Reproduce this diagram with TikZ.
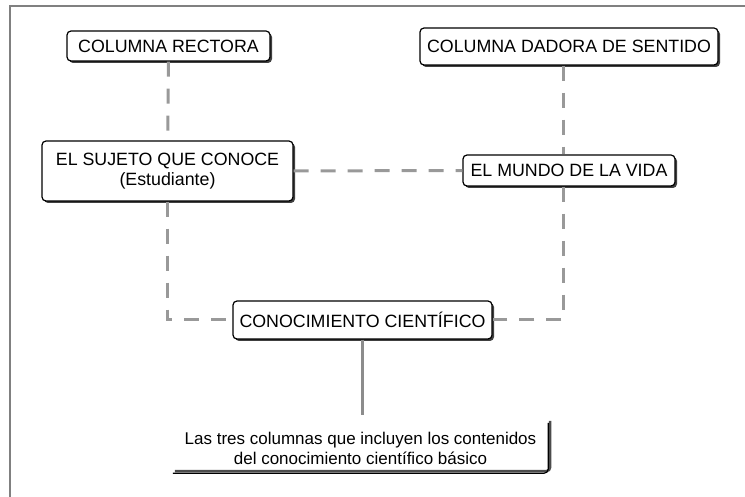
\documentclass[tikz,border=0pt]{standalone}
\usepackage{fontspec}
\setmainfont{Liberation Sans}
\usetikzlibrary{shadows}

\tikzset{
  caja/.style={draw=black, line width=1.2pt, fill=white, rounded corners=4pt,
    drop shadow={shadow xshift=2pt, shadow yshift=-2pt, fill=black!75, opacity=1},
    inner sep=2pt, align=center, font=\fontsize{17.8}{20}\selectfont},
  enlace/.style={draw=black!40, line width=3pt, dash pattern=on 15pt off 12pt},
  guia/.style={draw=black!45, line width=3pt},
  marco/.style={draw=black!50, line width=2pt}
}

\begin{document}
\begin{tikzpicture}[x=1pt,y=-1pt]
            \useasboundingbox (0,0) rectangle (745,497);
            \draw[marco] (10,497) -- (10,6) -- (745,6);
            % columnas
            \node[caja, minimum width=203pt, minimum height=30pt] (rectora) at (168.5,46) {COLUMNA RECTORA};
            \node[caja, minimum width=298pt, minimum height=37pt] (dadora) at (569,46.5) {COLUMNA DADORA DE SENTIDO};
            \node[caja, minimum width=251pt, minimum height=60pt] (sujeto) at (167.5,171) {EL SUJETO QUE CONOCE\\(Estudiante)};
            \node[caja, minimum width=212pt, minimum height=31pt] (mundo) at (569,170.5) {EL MUNDO DE LA VIDA};
            \node[caja, minimum width=259pt, minimum height=38pt] (ciencia) at (362.5,320) {CONOCIMIENTO CIENTÍFICO};
            % nota
            \node[align=center, font=\fontsize{17}{20}\selectfont, minimum width=375pt, minimum height=50pt, inner sep=0pt] (nota) at (360.5,448)
              {Las tres columnas que incluyen los contenidos\\del conocimiento científico básico};
            \draw[black!70, line width=2.5pt, rounded corners=4pt] ([shift={(2pt,2pt)}]nota.south west) -- ([shift={(2pt,2pt)}]nota.south east) -- ([shift={(2pt,2pt)}]nota.north east);
            \draw[black, line width=1.2pt, rounded corners=4pt] (nota.south west) -- (nota.south east) -- (nota.north east);
            % enlaces
            \draw[enlace] (rectora) -- (sujeto);
            \draw[enlace] (sujeto) -- (mundo);
            \draw[enlace] ([xshift=-6pt]dadora.south) -- ([xshift=-6pt]mundo.north);
            \draw[enlace] (sujeto.south) |- (ciencia.west);
            \draw[enlace] ([xshift=-6pt]mundo.south) |- (ciencia.east);
            \draw[guia, shorten >=8pt] (ciencia.south) -- (ciencia.south |- nota.north);
        \end{tikzpicture}
\end{document}
